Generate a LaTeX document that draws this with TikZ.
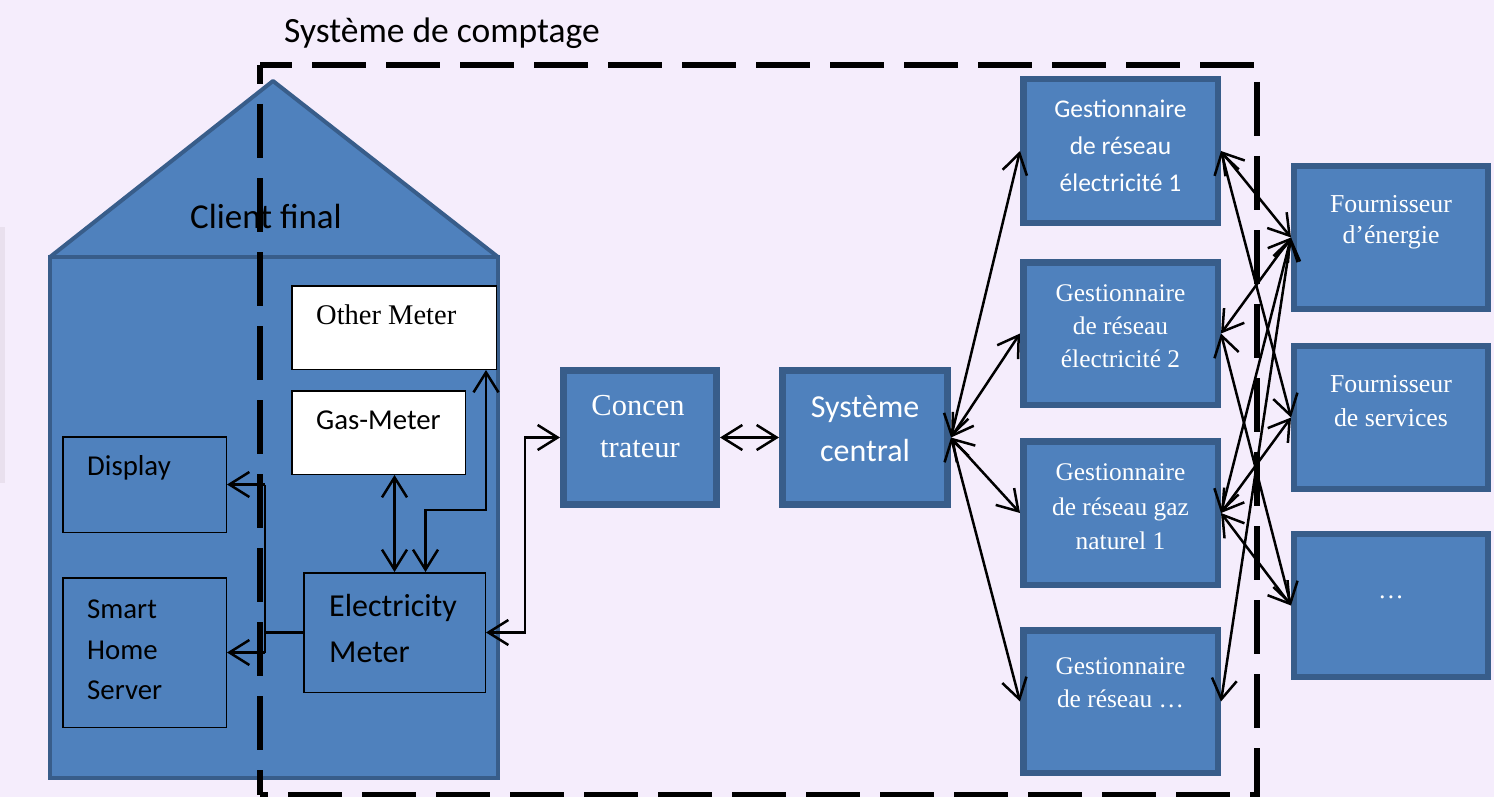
\documentclass[tikz,border=0pt]{standalone}
\usepackage{fontspec}
\setmainfont{Liberation Serif}
\newfontfamily\carl{Carlito}
\usetikzlibrary{arrows.meta,calc}
\definecolor{bgc}{RGB}{245,237,252}
\definecolor{stripc}{RGB}{233,224,238}
\definecolor{bfill}{RGB}{79,129,189}
\definecolor{bdark}{RGB}{56,93,138}
\begin{document}
\begin{tikzpicture}[x=1pt,y=-1pt,
  >={Straight Barb[length=20pt,width=25pt]},
  conn/.style={line width=2.5pt, draw=black},
  bbox/.style={rectangle, draw=bdark, fill=bfill, line width=6.5pt, inner sep=0pt},
  hbox/.style={rectangle, draw=black, fill=bfill, line width=1.5pt, inner sep=0pt},
  wbox/.style={rectangle, draw=black, fill=white, line width=1.5pt, inner sep=0pt},
  wt/.style={text=white, inner sep=0pt, anchor=base},
  bt/.style={text=black, inner sep=0pt, anchor=base west},
  gsans/.style={font=\carl\fontsize{25.5}{30}\selectfont},
  gserif/.style={font=\fontsize{25.4}{30}\selectfont},
  fserif/.style={font=\fontsize{25.8}{30}\selectfont},
  hsans/.style={font=\carl\fontsize{28.8}{34}\selectfont},
  dashbox/.style={line width=5.5pt, draw=black}
]
\fill[bgc] (0,0) rectangle (1494,797);
\useasboundingbox (0,0) rectangle (1494,797);
\fill[stripc] (0,227) rectangle (5,483);

% house
\draw[fill=bfill, draw=bdark, line width=4pt, line join=round] (50,257) -- (273,81) -- (498,257) -- cycle;
\draw[fill=bfill, draw=bdark, line width=4pt] (50,257) rectangle (498,778);

% title texts
\node[bt, font=\carl\fontsize{35.5}{42}\selectfont] (sdc) at (284,43) {Système de comptage};
\node[inner sep=0pt, anchor=base, font=\carl\fontsize{35}{42}\selectfont] (cf) at (266,228) {Client final};

% house inner boxes
\node[wbox, minimum width=204.5pt, minimum height=83.5pt] (Other) at (394,327.5) {};
\node[wbox, minimum width=173.5pt, minimum height=83.5pt] (Gas) at (378.5,432.5) {};
\node[hbox, minimum width=163.5pt, minimum height=95.5pt] (Disp) at (144.5,484.5) {};
\node[hbox, minimum width=163.5pt, minimum height=149.5pt] (Smart) at (144.5,652.5) {};
\node[hbox, minimum width=181.5pt, minimum height=119.5pt] (Elec) at (394.5,632.5) {};

\node[bt, font=\fontsize{28.5}{34}\selectfont] (tOther) at (316,324) {Other Meter};
\node[bt, hsans] (tGas) at (316,429) {Gas-Meter};
\node[bt, hsans] (tDisp) at (87,475) {Display};
\node[bt, hsans] (tS1) at (87,618) {Smart};
\node[bt, hsans] (tS2) at (87,659) {Home};
\node[bt, hsans] (tS3) at (87,699) {Server};
\node[bt, font=\carl\fontsize{32}{36}\selectfont] (tE1) at (329,616) {Electricity};
\node[bt, font=\carl\fontsize{32}{36}\selectfont] (tE2) at (329,662) {Meter};

% main boxes
\node[bbox, line width=7pt, minimum width=153pt, minimum height=134pt] (Conc) at (640,437.5) {};
\node[bbox, line width=7pt, minimum width=165pt, minimum height=134pt] (SC) at (865,437.5) {};
\node[wt, font=\fontsize{30.5}{36}\selectfont] (tC1) at (638,415) {Concen};
\node[wt, font=\fontsize{30.5}{36}\selectfont] (tC2) at (640,457) {trateur};
\node[wt, font=\carl\fontsize{32}{36}\selectfont] (tSC1) at (865,417) {Système};
\node[wt, font=\carl\fontsize{32}{36}\selectfont] (tSC2) at (865,461) {central};

\node[bbox, minimum width=194.5pt, minimum height=143.5pt] (G1) at (1120.5,151) {};
\node[bbox, minimum width=194.5pt, minimum height=142.5pt] (G2) at (1120.5,333.5) {};
\node[bbox, minimum width=194.5pt, minimum height=143.5pt] (G3) at (1120.5,513) {};
\node[bbox, minimum width=194.5pt, minimum height=142.5pt] (G4) at (1120.5,701.5) {};
\node[bbox, line width=6pt, minimum width=194pt, minimum height=143pt] (F1) at (1391,237.5) {};
\node[bbox, line width=6pt, minimum width=194pt, minimum height=143pt] (F2) at (1391,417.5) {};
\node[bbox, line width=6pt, minimum width=194pt, minimum height=143pt] (F3) at (1391,605.5) {};

\node[wt, gsans] (tG1a) at (1120.5,118) {Gestionnaire};
\node[wt, gsans] (tG1b) at (1120.5,155) {de réseau};
\node[wt, gsans] (tG1c) at (1120.5,191) {électricité 1};
\node[wt, gserif] (tG2a) at (1120.5,301) {Gestionnaire};
\node[wt, gserif] (tG2b) at (1120.5,334) {de réseau};
\node[wt, gserif] (tG2c) at (1120.5,367) {électricité 2};
\node[wt, gserif] (tG3a) at (1120.5,480) {Gestionnaire};
\node[wt, gserif] (tG3b) at (1120.5,515) {de réseau gaz};
\node[wt, gserif] (tG3c) at (1120.5,549) {naturel 1};
\node[wt, gserif] (tG4a) at (1120.5,674) {Gestionnaire};
\node[wt, gserif] (tG4b) at (1120.5,707) {de réseau …};
\node[wt, fserif] (tF1a) at (1391,212) {Fournisseur};
\node[wt, fserif] (tF1b) at (1391,243) {d’énergie};
\node[wt, fserif] (tF2a) at (1391,392) {Fournisseur};
\node[wt, fserif] (tF2b) at (1391,426) {de services};
\node[wt, fserif] (tF3) at (1391,598) {…};

% dashed system boundary
\coordinate (dTL) at (260,65);
\coordinate (dTR) at (1257,65);
\coordinate (dBR) at (1257,795);
\coordinate (dBL) at (260,795);
\draw[dashbox, dash pattern=on 54pt off 20pt, dash phase=22pt] (dTL) -- (dTR) -- (dBR) -- (dBL);
\draw[dashbox, dash pattern=on 54pt off 20pt, dash phase=35pt] (dTL) -- (dBL);

% house connectors
\coordinate (busL) at (265,0);
\coordinate (busR) at (525,0);
\coordinate (elb) at (0,510);
\coordinate (o1) at ($(Other.south east)+(-11,0)$);
\coordinate (e1) at ($(Elec.north)+(31,0)$);
\draw[conn,<->] (Gas.south -| Elec.north) -- (Elec.north);
\draw[conn,<->] (o1) -- (o1 |- elb) -- (e1 |- elb) -- (e1);
\draw[conn] (Elec.west) -- (Elec.west -| busL);
\draw[conn] (Disp.east -| busL) -- (Smart.east -| busL);
\draw[conn,->] (Disp.east -| busL) -- (Disp.east);
\draw[conn,->] (Smart.east -| busL) -- (Smart.east);
\draw[conn,<->] (Elec.east) -- (Elec.east -| busR) -- (busR |- Conc.west) -- (Conc.west);

% main connectors
\draw[conn,<->] (Conc.east) -- (SC.west);
\draw[conn,<->] (SC.east) -- (G1.west);
\draw[conn,<->] (SC.east) -- (G2.west);
\draw[conn,<->] (SC.east) -- (G3.west);
\draw[conn,<->] (SC.east) -- (G4.west);
\draw[conn,<->] (G1.east) -- (F1.west);
\draw[conn,<->] (G1.east) -- (F2.west);
\draw[conn,<->] (G2.east) -- (F1.west);
\draw[conn,<->] (G2.east) -- (F3.west);
\draw[conn,<->] (G3.east) -- (F1.west);
\draw[conn,<->] (G3.east) -- (F2.west);
\draw[conn,<->] (G3.east) -- (F3.west);
\draw[conn,<->] (G4.east) -- (F1.west);
\end{tikzpicture}
\end{document}
